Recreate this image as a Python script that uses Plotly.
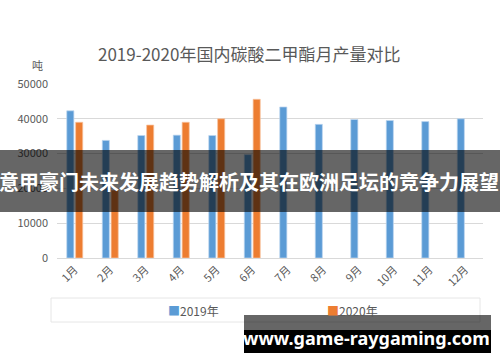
import plotly.graph_objects as go

months = ["1月", "2月", "3月", "4月", "5月", "6月", "7月", "8月", "9月", "10月", "11月", "12月"]
y2019 = [42300, 33800, 35200, 35300, 35200, 29700, 43400, 38400, 39800, 39500, 39200, 40000]
y2020 = [39000, 19500, 38200, 39000, 40000, 45600, None, None, None, None, None, None]
yticks = [0, 10000, 20000, 30000, 40000, 50000]

title_text = "2019-2020年国内碳酸二甲酯月产量对比"
unit_text = "吨"
banner_text = "意甲豪门未来发展趋势解析及其在欧洲足坛的竞争力展望"
watermark_text = "www.game-raygaming.com"

BLUE = "#5B9BD5"
ORANGE = "#ED7D31"
GREY = "#595959"
CJK = "Noto Sans CJK SC"

# plot area in pixels
L, R, T, B = 57, 483, 84, 258
W, H = 500, 362


def px_x(px):
    return (px - L) / (R - L)


def px_y(py):
    return (B - py) / (B - T)


fig = go.Figure()
fig.add_trace(go.Bar(x=months, y=y2019, name="2019年", marker_color=BLUE, showlegend=False,
                     marker_line=dict(color="rgba(190,215,240,0.9)", width=0.8)))
fig.add_trace(go.Bar(x=months, y=y2020, name="2020年", marker_color=ORANGE, showlegend=False,
                     marker_line=dict(color="rgba(248,195,160,0.9)", width=0.8)))

shapes = [
    # legend box
    dict(type="rect", xref="paper", yref="paper", x0=px_x(51), x1=px_x(480), y0=px_y(298), y1=px_y(322),
         line=dict(color="#e6e6e6", width=1), fillcolor="white", layer="below"),
    # banner
    dict(type="rect", xref="paper", yref="paper", x0=px_x(0), x1=px_x(500), y0=px_y(150), y1=px_y(212),
         line=dict(width=0), fillcolor="rgba(0,0,0,0.6)", layer="above"),
    # watermark
    dict(type="rect", xref="paper", yref="paper", x0=px_x(244), x1=px_x(491), y0=px_y(315), y1=px_y(330),
         line=dict(width=0), fillcolor="rgba(0,0,0,0.6)", layer="above"),
    dict(type="rect", xref="paper", yref="paper", x0=px_x(244), x1=px_x(491), y0=px_y(330), y1=px_y(353),
         line=dict(width=0), fillcolor="black", layer="above"),
]

annotations = [
    dict(text=title_text, xref="paper", yref="paper", x=px_x(249), y=px_y(53), showarrow=False,
         xanchor="center", yanchor="middle", font=dict(family=CJK, size=17, color=GREY)),
    dict(text=unit_text, xref="paper", yref="paper", x=px_x(37), y=px_y(65), showarrow=False,
         xanchor="center", yanchor="middle", font=dict(family=CJK, size=11, color=GREY)),
    dict(text=f'<span style="color:{BLUE}">■</span>2019年', xref="paper", yref="paper",
         x=px_x(166), y=px_y(310), showarrow=False, xanchor="left", yanchor="middle",
         font=dict(family=CJK, size=12, color=GREY)),
    dict(text=f'<span style="color:{ORANGE}">■</span>2020年', xref="paper", yref="paper",
         x=px_x(325), y=px_y(310), showarrow=False, xanchor="left", yanchor="middle",
         font=dict(family=CJK, size=12, color=GREY)),
    dict(text=f"<b>{banner_text}</b>", xref="paper", yref="paper", x=px_x(249), y=px_y(181), showarrow=False,
         xanchor="center", yanchor="middle", font=dict(family=CJK, size=20, color="white")),
    dict(text=f"<b>{watermark_text}</b>", xref="paper", yref="paper", x=px_x(366), y=px_y(338), showarrow=False,
         xanchor="center", yanchor="middle", font=dict(family="Noto Sans", size=18, color="white")),
]

fig.update_layout(
    width=W, height=H,
    margin=dict(l=L, r=W - R, t=T, b=H - B, pad=0, autoexpand=False),
    paper_bgcolor="white", plot_bgcolor="white",
    barmode="group", bargap=0.5, bargroupgap=0.2,
    shapes=shapes, annotations=annotations,
    font=dict(family=CJK, color=GREY),
)
fig.update_yaxes(range=[0, 50000], tickvals=yticks, tickformat="d", showgrid=True, gridcolor="#d9d9d9",
                 gridwidth=1, zeroline=False, showline=False, ticks="", ticklabelstandoff=8, automargin=False,
                 tickfont=dict(family=CJK, size=11, color=GREY))
fig.update_xaxes(tickangle=-45, showline=True, linecolor="#d9d9d9", linewidth=1, ticks="", automargin=False,
                 tickfont=dict(family=CJK, size=11, color=GREY), showgrid=False)

fig.write_html("out.html", config={"displayModeBar": False},
               post_script="document.body.style.margin='0';document.body.style.overflow='hidden';")
